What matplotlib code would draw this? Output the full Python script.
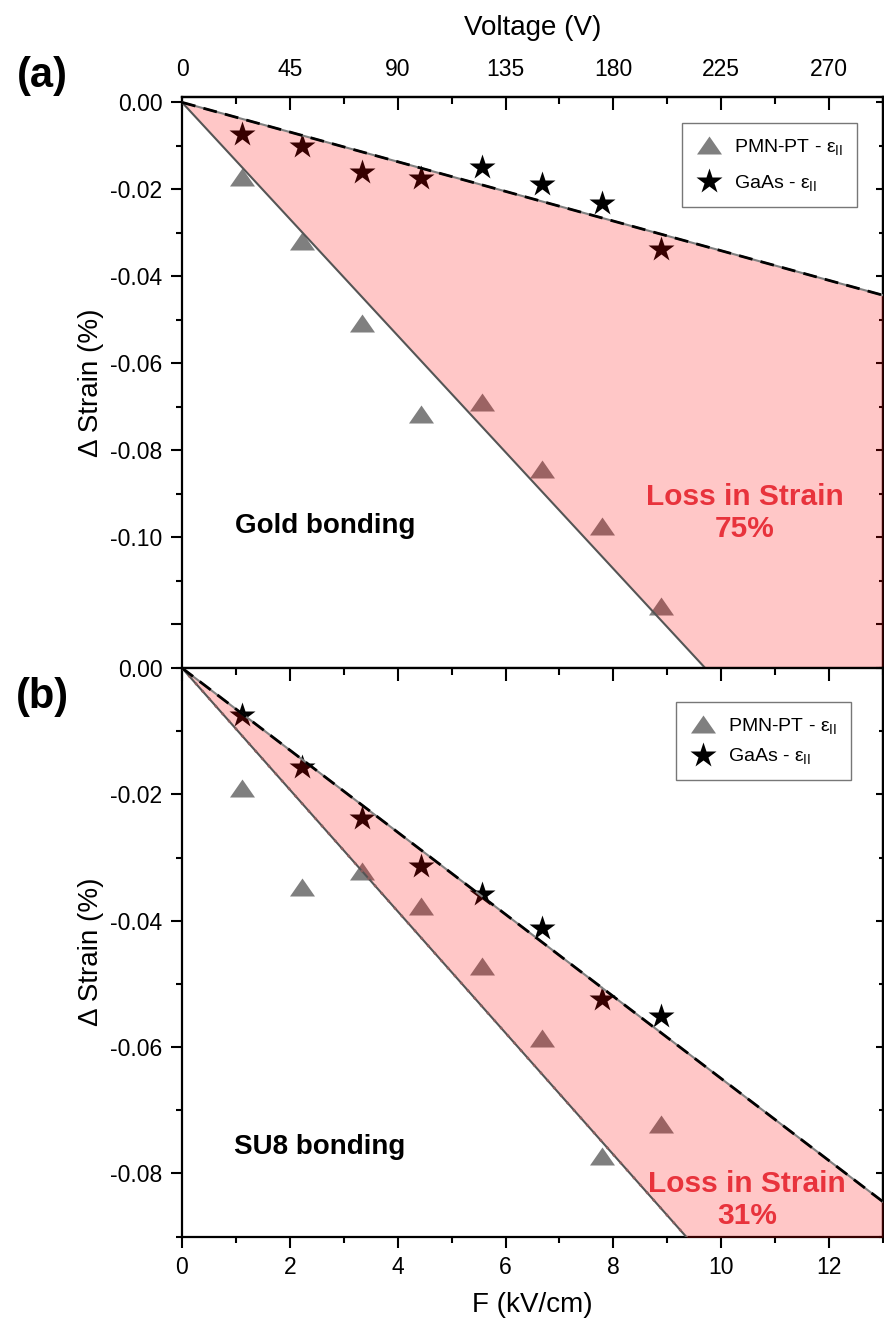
import matplotlib
matplotlib.use("Agg")
import matplotlib.pyplot as plt
import numpy as np
from matplotlib.ticker import MultipleLocator, FixedLocator, FixedFormatter

plt.rcParams['font.family'] = ['Liberation Sans', 'DejaVu Sans']
plt.rcParams['mathtext.fontset'] = 'custom'
plt.rcParams['mathtext.rm'] = 'Liberation Sans'
plt.rcParams['mathtext.it'] = 'Liberation Sans'

# ---------------- data ----------------
field = [1.11, 2.22, 3.33, 4.44, 5.56, 6.67, 7.78, 8.89]          # kV/cm
pmn_a = [-0.0171, -0.0319, -0.0508, -0.0716, -0.0688, -0.0843, -0.0974, -0.1157]
gaas_a = [-0.0072, -0.0100, -0.0160, -0.0174, -0.0148, -0.0188, -0.0231, -0.0337]
pmn_b = [-0.0190, -0.0347, -0.0322, -0.0376, -0.0472, -0.0585, -0.0772, -0.0722]
gaas_b = [-0.0074, -0.0157, -0.0238, -0.0314, -0.0357, -0.0411, -0.0524, -0.0551]
# fitted line slopes (strain per kV/cm): [GaAs, PMN-PT]
slopes_a = [-0.00341, -0.01340]
slopes_b = [-0.00650, -0.00963]
loss_labels = ["Loss in Strain\n75%", "Loss in Strain\n31%"]
bond_labels = ["Gold bonding", "SU8 bonding"]
volt_ticks = [0, 45, 90, 135, 180, 225, 270]
ya_ticks = [0.0, -0.02, -0.04, -0.06, -0.08, -0.10, -0.12]
ya_labels = ["0.00", "-0.02", "-0.04", "-0.06", "-0.08", "-0.10", ""]
yb_ticks = [0.0, -0.02, -0.04, -0.06, -0.08]
yb_labels = ["0.00", "-0.02", "-0.04", "-0.06", "-0.08"]

W, H = 884, 1325
fig = plt.figure(figsize=(W / 100, H / 100), dpi=100)
L, R = 182, 883
ta, mid, bb = 96.7, 668.0, 1236.5
ax1 = fig.add_axes([L / W, 1 - mid / H, (R - L) / W, (mid - ta) / H])
ax2 = fig.add_axes([L / W, 1 - bb / H, (R - L) / W, (bb - mid) / H])

tri = [(-1, -0.72), (1, -0.72), (0, 0.72), (-1, -0.72)]
red = '#e8333c'
xs = np.array([0, 13.0])
TL = 16.5   # tick label size
AL = 20     # axis label size

def draw(ax, pmn, gaas, slopes, lower_dotted):
    ax.plot(field, pmn, linestyle='none', marker=tri, ms=18, color='#7f7f7f',
            mec='none', zorder=2, label='PMN-PT - ε$_{\\mathregular{II}}$')
    ax.plot(field, gaas, linestyle='none', marker='*', ms=19, color='black',
            mec='none', zorder=2, label='GaAs - ε$_{\\mathregular{II}}$')
    up = slopes[0] * xs
    lo = slopes[1] * xs
    ax.fill_between(xs, lo, up, color='red', alpha=0.22, lw=0, zorder=3)
    ax.plot(xs, up, color='#808080', lw=1.5, zorder=4)
    ax.plot(xs, up, color='black', lw=2.0, ls=(0, (5, 3)), zorder=5)
    ax.plot(xs, lo, color='#555555', lw=1.5, zorder=4)
    if lower_dotted:
        ax.plot(xs, lo, color='#8a6060', lw=1.8, ls=(0, (1, 3)), zorder=4)

draw(ax1, pmn_a, gaas_a, slopes_a, False)
draw(ax2, pmn_b, gaas_b, slopes_b, True)

ax1.set_xlim(0, 13)
ax2.set_xlim(0, 13)
ax1.set_ylim(-0.13, 0.0013)
ax2.set_ylim(-0.09, 0.0)

for ax in (ax1, ax2):
    for s in ax.spines.values():
        s.set_linewidth(1.6)
    ax.yaxis.set_minor_locator(MultipleLocator(0.01))
    ax.xaxis.set_major_locator(MultipleLocator(2))
    ax.xaxis.set_minor_locator(MultipleLocator(1))
    ax.tick_params(axis='y', which='major', direction='out', length=8, width=1.5,
                   labelsize=TL, pad=6, right=False)
    ax.tick_params(axis='y', which='minor', direction='out', length=4, width=1.5, right=False)
    sy = ax.secondary_yaxis('right')
    sy.yaxis.set_major_locator(MultipleLocator(0.02))
    sy.yaxis.set_minor_locator(MultipleLocator(0.01))
    sy.tick_params(which='major', direction='in', length=5, width=1.5, labelright=False)
    sy.tick_params(which='minor', direction='in', length=3, width=1.5)
    sy.spines['right'].set_linewidth(1.6)

ax1.yaxis.set_major_locator(FixedLocator(ya_ticks))
ax1.yaxis.set_major_formatter(FixedFormatter(ya_labels))
ax2.yaxis.set_major_locator(FixedLocator(yb_ticks))
ax2.yaxis.set_major_formatter(FixedFormatter(yb_labels))

ax1.tick_params(axis='x', which='both', bottom=False, labelbottom=False)
ax2.tick_params(axis='x', which='major', direction='out', length=8, width=1.5,
                labelsize=TL, pad=6)
ax2.tick_params(axis='x', which='minor', direction='out', length=4, width=1.5)

# top of panel b (inward ticks)
st = ax2.secondary_xaxis('top')
st.xaxis.set_major_locator(MultipleLocator(2))
st.xaxis.set_minor_locator(MultipleLocator(1))
st.tick_params(which='major', direction='in', length=9, width=1.5, labeltop=False)
st.tick_params(which='minor', direction='in', length=5, width=1.5)

# voltage axis on top of panel a
sv = ax1.secondary_xaxis('top', functions=(lambda f: f * 22.5, lambda v: v / 22.5))
sv.xaxis.set_major_locator(FixedLocator(volt_ticks))
sv.xaxis.set_minor_locator(MultipleLocator(22.5))
sv.tick_params(which='major', direction='in', length=9, width=1.5, labelsize=TL, pad=11)
sv.tick_params(which='minor', direction='in', length=5, width=1.5)
sv.spines['top'].set_linewidth(1.6)
sv.set_xlabel('Voltage (V)', fontsize=AL, labelpad=17)

ax2.set_xlabel('F (kV/cm)', fontsize=AL)
ax2.xaxis.set_label_coords(0.5, -0.0976)
for ax in (ax1, ax2):
    ax.set_ylabel('Δ Strain (%)', fontsize=AL)
    ax.yaxis.set_label_coords(-0.111, 0.5)

leg_kw = dict(loc='upper right', fontsize=14, frameon=True, fancybox=False,
              edgecolor='#555555', handletextpad=0.6, borderpad=0.7,
              borderaxespad=0.0, handlelength=1.4)
lg1 = ax1.legend(bbox_to_anchor=(0.963, 0.954), labelspacing=0.85, **leg_kw)
lg2 = ax2.legend(bbox_to_anchor=(0.954, 0.940), labelspacing=0.55, **leg_kw)
for lg in (lg1, lg2):
    lg.get_frame().set_linewidth(1.0)
    lg.set_zorder(10)

ax1.text(2.66, -0.0974, bond_labels[0], fontsize=20, fontweight='bold',
         ha='center', va='center', zorder=6)
ax1.text(10.44, -0.0944, loss_labels[0], fontsize=21.5, fontweight='bold', color=red,
         ha='center', va='center', linespacing=1.2, zorder=6)
ax2.text(2.56, -0.0758, bond_labels[1], fontsize=20, fontweight='bold',
         ha='center', va='center', zorder=6)
ax2.text(10.48, -0.0842, loss_labels[1], fontsize=21.5, fontweight='bold', color=red,
         ha='center', va='center', linespacing=1.2, zorder=6)

fig.text(42 / W, 1 - 76 / H, '(a)', fontsize=30, fontweight='bold', ha='center', va='center')
fig.text(42 / W, 1 - 697 / H, '(b)', fontsize=30, fontweight='bold', ha='center', va='center')

fig.savefig('out.png', dpi=100)
